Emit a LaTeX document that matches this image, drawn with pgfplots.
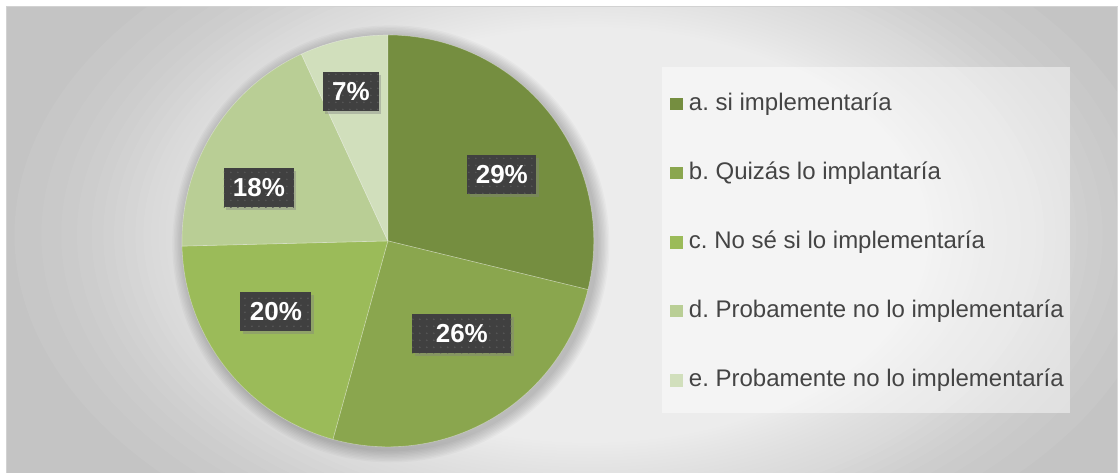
\documentclass[border=0pt]{standalone}
\usepackage{pgfplots}
\pgfplotsset{compat=1.18}
\usepackage{pgfplotstable}
\usepackage{fontspec}
\setmainfont{Liberation Sans}
\usetikzlibrary{shadows,patterns.meta}

\definecolor{slice0}{RGB}{117,142,64}
\definecolor{slice1}{RGB}{138,166,78}
\definecolor{slice2}{RGB}{155,187,89}
\definecolor{slice3}{RGB}{185,206,149}
\definecolor{slice4}{RGB}{209,223,188}
\definecolor{labgray}{RGB}{64,64,64}
\definecolor{dotgray}{RGB}{88,88,88}
\definecolor{legtext}{RGB}{68,68,68}
\definecolor{framegray}{RGB}{210,210,210}
\definecolor{bggray}{RGB}{196,196,196}

\pgfplotstableread{
val lab lx ly bw
28.8 29 502 298 69
25.5 26 462 139 99
20.3 20 276 161 71
18.5 18 259 285 70
6.9 7 351 381 56
}\piedata

\tikzset{
  pielab/.style={fill=labgray, text=white,
    font=\fontsize{26}{30}\selectfont\bfseries,
    minimum height=39pt, inner sep=0pt,
    drop shadow={shadow xshift=2.5pt, shadow yshift=-3pt, opacity=0.4},
    postaction={pattern={Dots[distance=7pt,radius=0.9pt]}, pattern color=dotgray}},
  legtxt/.style={anchor=base west, inner sep=0pt, text=legtext,
    font=\fontsize{24}{28}\selectfont},
}

\begin{document}
\frenchspacing
\begin{tikzpicture}[x=1pt, y=1pt]
% page and frame background (decoration, not data)
\fill[white] (0,0) rectangle (1118,473);
\begin{scope}
\clip (6,0) rectangle (1118,467);
\fill[bggray] (6,0) rectangle (1118,467);
\foreach \k in {1,...,70}{
  \pgfmathsetmacro\f{1-0.7*(\k/70)^0.4}
  \fill[white, opacity=0.05] (590,238) ellipse [x radius={\f*660}, y radius={\f*410}];
}
\end{scope}
\draw[framegray, line width=0.8pt] (6,0) -- (6,467) -- (1118,467);
\begin{axis}[
  at={(0,0)}, anchor=origin,
  x=1pt, y=1pt,
  xmin=0, xmax=1118, ymin=0, ymax=473,
  hide axis, clip=false,
]
% soft shadow of the pie
\pgfplotsinvokeforeach{1,...,9}{
  \fill[black, opacity=0.022] (axis cs:391,229) circle [radius={206+1.4*#1}];
}

% pie slices from the table
\def\cum{0}
\pgfplotsforeachungrouped \i in {0,...,4}{%
  \pgfplotstablegetelem{\i}{val}\of\piedata \let\v\pgfplotsretval
  \pgfmathsetmacro\a{90-3.6*\cum}%
  \pgfmathsetmacro\cum{\cum+\v}%
  \pgfmathsetmacro\b{90-3.6*\cum}%
  \pgfmathsetmacro\sx{388+206*cos(\a)}%
  \pgfmathsetmacro\sy{232+206*sin(\a)}%
  \edef\temp{\noexpand\fill[fill=slice\i, draw=white, draw opacity=0.35, line width=0.6pt]
    (axis cs:388,232) -- (axis cs:\sx,\sy) arc [start angle=\a, end angle=\b, radius=206pt] -- cycle;}%
  \temp
}

% data labels
\pgfplotsforeachungrouped \i in {0,...,4}{%
  \pgfplotstablegetelem{\i}{lab}\of\piedata \let\lab\pgfplotsretval
  \pgfplotstablegetelem{\i}{lx}\of\piedata \let\lx\pgfplotsretval
  \pgfplotstablegetelem{\i}{ly}\of\piedata \let\ly\pgfplotsretval
  \pgfplotstablegetelem{\i}{bw}\of\piedata \let\bw\pgfplotsretval
  \edef\temp{\noexpand\node[pielab, minimum width=\bw pt] at (axis cs:\lx,\ly) {\lab\noexpand\%};}%
  \temp
}

% legend
\fill[white, opacity=0.45] (axis cs:662.7,60) rectangle (axis cs:1070.7,406);
\fill[slice0] (axis cs:670.7,362.5) rectangle (axis cs:683.3,375.1);
\fill[slice1] (axis cs:670.7,293.5) rectangle (axis cs:683.3,306.1);
\fill[slice2] (axis cs:670.7,224.4) rectangle (axis cs:683.3,237.0);
\fill[slice3] (axis cs:670.7,155.4) rectangle (axis cs:683.3,168.0);
\fill[slice4] (axis cs:670.7,86.3) rectangle (axis cs:683.3,98.9);
\node[legtxt] at (axis cs:689,362.5) {a. si implementaría};
\node[legtxt] at (axis cs:689,293.5) {b. Quizás lo implantaría};
\node[legtxt] at (axis cs:689,224.4) {c. No sé si lo implementaría};
\node[legtxt] at (axis cs:689,155.4) {d. Probamente no lo implementaría};
\node[legtxt] at (axis cs:689,86.3) {e. Probamente no lo implementaría};
\end{axis}
\end{tikzpicture}
\end{document}
